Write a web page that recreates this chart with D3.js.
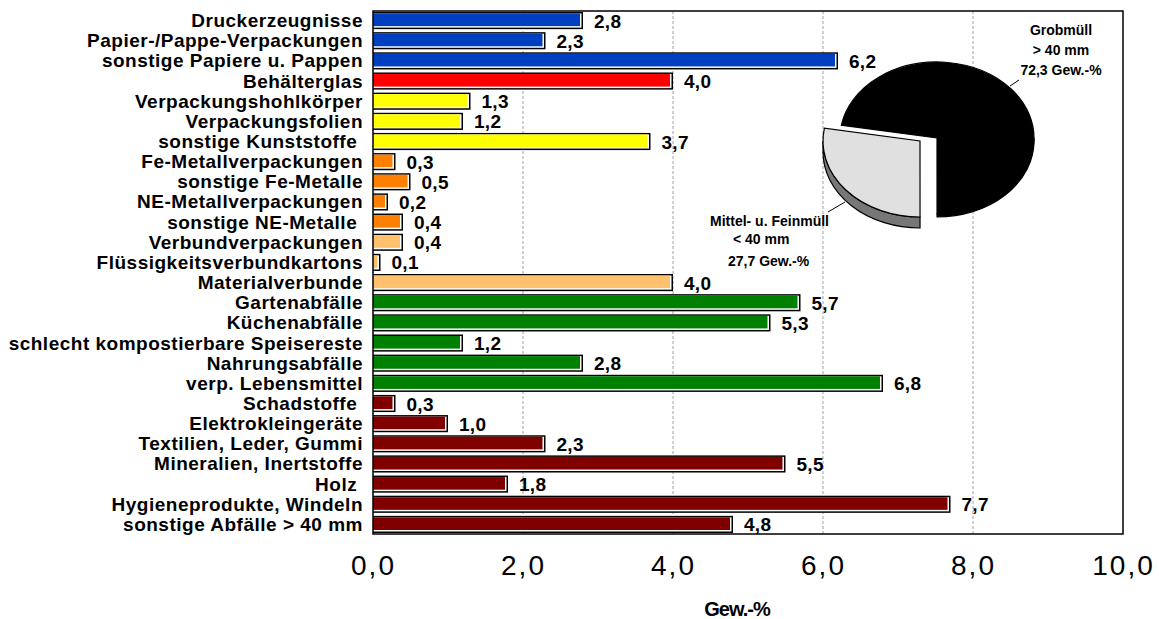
<!DOCTYPE html>
<html>
<head lang="de">
    <meta charset="UTF-8">
    <title></title>
    <script src="https://cdn.jsdelivr.net/npm/d3@7"></script>
    <style>
        body { margin: 0; background: #fff; }
        text { font-family: "Liberation Sans", Arial, sans-serif; white-space: pre; }
    </style>
</head>
<body>
<div id="tu"></div>
<script>
    var categories = ['Druckerzeugnisse', 'Papier-/Pappe-Verpackungen', 'sonstige Papiere u. Pappen', 'Behälterglas',
        'Verpackungshohlkörper', 'Verpackungsfolien', 'sonstige Kunststoffe ', 'Fe-Metallverpackungen',
        'sonstige Fe-Metalle', 'NE-Metallverpackungen', 'sonstige NE-Metalle ', 'Verbundverpackungen',
        'Flüssigkeitsverbundkartons', 'Materialverbunde', 'Gartenabfälle', 'Küchenabfälle',
        'schlecht kompostierbare Speisereste', 'Nahrungsabfälle', 'verp. Lebensmittel', 'Schadstoffe ',
        'Elektrokleingeräte', 'Textilien, Leder, Gummi', 'Mineralien, Inertstoffe', 'Holz ',
        'Hygieneprodukte, Windeln', 'sonstige Abfälle > 40 mm'];
    var values = [2.8, 2.3, 6.2, 4.0, 1.3, 1.2, 3.7, 0.3, 0.5, 0.2, 0.4, 0.4, 0.1, 4.0,
        5.7, 5.3, 1.2, 2.8, 6.8, 0.3, 1.0, 2.3, 5.5, 1.8, 7.7, 4.8];
    var groups = ['papier', 'papier', 'papier', 'glas', 'kunst', 'kunst', 'kunst', 'metall', 'metall', 'metall', 'metall',
        'verbund', 'verbund', 'verbund', 'bio', 'bio', 'bio', 'bio', 'bio',
        'rest', 'rest', 'rest', 'rest', 'rest', 'rest', 'rest'];
    var groupColors = {papier: '#0040c0', glas: '#ff0000', kunst: '#ffff00', metall: '#ff8000',
        verbund: '#ffc16e', bio: '#008000', rest: '#800000'};
    var xTicks = [0, 2, 4, 6, 8, 10];

    var pieNames = ['Grobmüll', 'Mittel- u. Feinmüll'];
    var pieValues = [72.3, 27.7];
    var pieLabels = [['Grobmüll', '> 40 mm', '72,3 Gew.-%'], ['Mittel- u. Feinmüll', '< 40 mm', '27,7 Gew.-%']];

    var width = 1159, height = 619;
    var pLeft = 373, pRight = 1123, pTop = 11, pBottom = 534;

    var svg = d3.select('#tu').append('svg')
            .attr('width', width)
            .attr('height', height);

    var x = d3.scaleLinear().domain([0, 10]).range([pLeft, pRight]);
    var y = d3.scaleBand().domain(categories).range([pTop, pBottom])
            .paddingInner(0.15).paddingOuter(0.05);
    var fmt = function (d) { return d3.format('.1f')(d).replace('.', ','); };

    // gridlines
    svg.append('g').selectAll('line')
            .data(xTicks.filter(function (d) { return d > 0 && d < 10; }))
            .enter().append('line')
            .attr('x1', function (d) { return x(d); })
            .attr('x2', function (d) { return x(d); })
            .attr('y1', pTop).attr('y2', pBottom)
            .style('stroke', '#a0a0a0')
            .style('stroke-width', 1)
            .style('stroke-dasharray', '3,2');

    // bars
    var bh = y.bandwidth();
    var gbar = svg.append('g').selectAll('g')
            .data(values)
            .enter().append('g')
            .attr('transform', function (d, i) { return 'translate(0,' + y(categories[i]) + ')'; });
    gbar.append('rect')
            .attr('x', x(0)).attr('y', 0)
            .attr('width', function (d) { return x(d) - x(0); })
            .attr('height', bh)
            .style('fill', '#000');
    gbar.append('rect')
            .attr('x', x(0)).attr('y', 1.5)
            .attr('width', function (d) { return Math.max(0, x(d) - x(0) - 1.5); })
            .attr('height', bh - 3)
            .style('fill', '#fff');
    gbar.append('rect')
            .attr('x', x(0)).attr('y', 1.5)
            .attr('width', function (d) { return Math.max(0, x(d) - x(0) - 3); })
            .attr('height', bh - 4.5)
            .style('fill', function (d, i) { return groupColors[groups[i]]; });
    gbar.append('text')
            .attr('x', function (d) { return x(d) + 11; })
            .attr('y', bh / 2 + 7)
            .style('font-size', '19px')
            .style('font-weight', 'bold')
            .style('letter-spacing', '0.3px')
            .text(function (d) { return fmt(d); });

    // category labels
    svg.append('g').selectAll('text')
            .data(categories)
            .enter().append('text')
            .attr('x', 363)
            .attr('y', function (d) { return y(d) + bh / 2 + 6.5; })
            .attr('text-anchor', 'end')
            .style('font-size', '19px')
            .style('font-weight', 'bold')
            .style('letter-spacing', '0.5px')
            .text(function (d) { return d; });

    // x axis
    var xAxis = svg.append('g')
            .attr('transform', 'translate(0,' + pBottom + ')')
            .call(d3.axisBottom(x).tickValues(xTicks).tickFormat(fmt).tickSize(0).tickPadding(21));
    xAxis.select('.domain').remove();
    xAxis.selectAll('text')
            .style('font-family', '"Liberation Sans", Arial, sans-serif')
            .style('font-size', '28px')
            .style('letter-spacing', '2px')
            .style('fill', '#000');

    svg.append('text')
            .attr('x', 737).attr('y', 616)
            .attr('text-anchor', 'middle')
            .style('font-size', '20px')
            .style('font-weight', 'bold')
            .style('letter-spacing', '-1px')
            .text('Gew.-%');

    // 3d pie
    var cx = 937, cy = 138, rx = 97, ry = 76;
    var arcs = d3.pie().sort(null)
            .startAngle(-80.3 * Math.PI / 180)
            .endAngle(-80.3 * Math.PI / 180 + 2 * Math.PI)(pieValues);
    var offsets = [[0, 0], [-17, 3]];
    var depths = [3, 11];
    var sideColors = ['#000', '#777'];
    var topColors = ['#000', '#e0e0e0'];

    function pt(a, o, dy) {
        return [cx + o[0] + rx * Math.sin(a), cy + o[1] + dy - ry * Math.cos(a)];
    }
    function sector(d, o) {
        var p0 = pt(d.startAngle, o, 0), p1 = pt(d.endAngle, o, 0);
        var large = (d.endAngle - d.startAngle) > Math.PI ? 1 : 0;
        return 'M' + (cx + o[0]) + ',' + (cy + o[1]) + 'L' + p0 + 'A' + rx + ',' + ry + ' 0 ' + large + ' 1 ' + p1 + 'Z';
    }
    function side(d, o, dep) {
        // visible front part of the rim: angles between PI/2 and 3PI/2
        var a0 = Math.max(d.startAngle, Math.PI / 2), a1 = Math.min(d.endAngle, 3 * Math.PI / 2);
        if (a1 <= a0) return null;
        var t0 = pt(a0, o, 0), t1 = pt(a1, o, 0), b0 = pt(a0, o, dep), b1 = pt(a1, o, dep);
        return 'M' + t0 + 'A' + rx + ',' + ry + ' 0 0 1 ' + t1 + 'L' + b1 +
                'A' + rx + ',' + ry + ' 0 0 0 ' + b0 + 'Z';
    }
    var gpie = svg.append('g');
    arcs.forEach(function (d, i) {
        var s = side(d, offsets[i], depths[i]);
        if (s) {
            gpie.append('path').attr('d', s)
                    .style('fill', sideColors[i]).style('stroke', '#000').style('stroke-width', 1.2);
        }
        gpie.append('path').attr('d', sector(d, offsets[i]))
                .style('fill', topColors[i]).style('stroke', '#000').style('stroke-width', 1.2)
                .append('title').text(pieNames[i] + ': ' + fmt(pieValues[i]) + ' Gew.-%');
    });

    // pie labels
    var labelPos = [
        {x: [1061, 1061, 1061], y: [35, 55, 75], anchor: 'middle'},
        {x: [710, 733, 728], y: [226, 244, 266], anchor: 'start'}
    ];
    pieLabels.forEach(function (lines, i) {
        lines.forEach(function (t, j) {
            svg.append('text')
                    .attr('x', labelPos[i].x[j]).attr('y', labelPos[i].y[j])
                    .attr('text-anchor', labelPos[i].anchor)
                    .style('font-size', '14px')
                    .style('font-weight', 'bold')
                    .text(t);
        });
    });
    svg.append('line').attr('x1', 1010).attr('y1', 86).attr('x2', 1019).attr('y2', 80)
            .style('stroke', '#000').style('stroke-width', 1);
    svg.append('line').attr('x1', 828).attr('y1', 212).attr('x2', 845).attr('y2', 202)
            .style('stroke', '#000').style('stroke-width', 1);

    // plot frame
    svg.append('rect')
            .attr('x', pLeft).attr('y', pTop)
            .attr('width', pRight - pLeft).attr('height', pBottom - pTop)
            .style('fill', 'none')
            .style('stroke', '#000')
            .style('stroke-width', 1.5);
</script>
</body>
</html>
